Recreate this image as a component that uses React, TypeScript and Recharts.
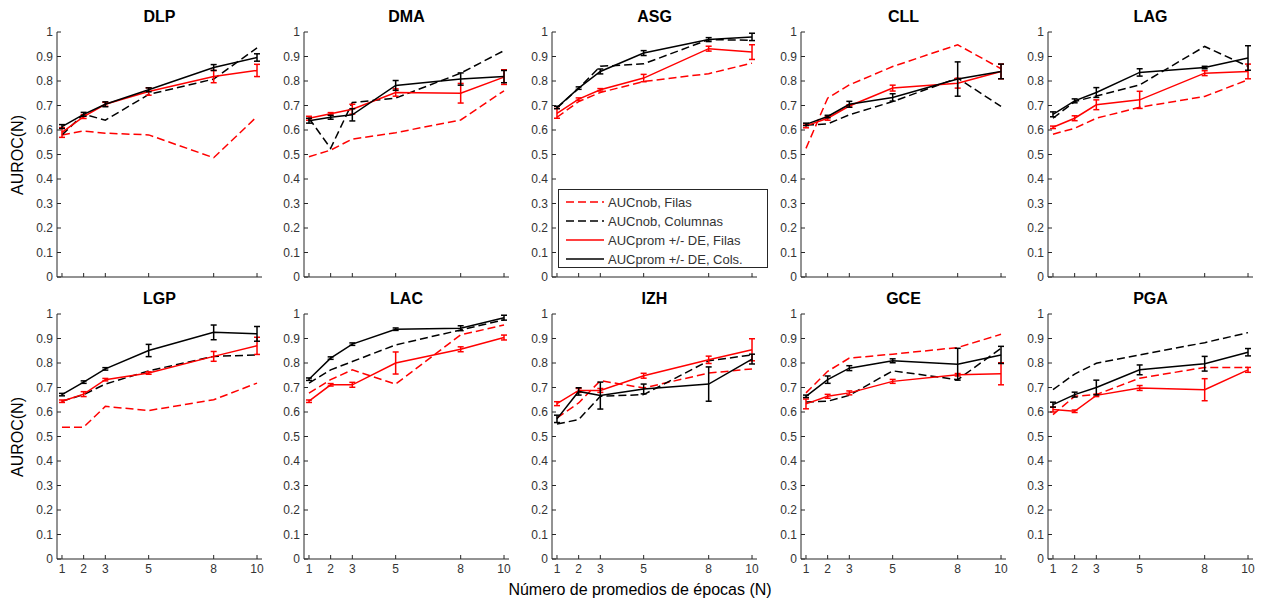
import React from 'react';
import { LineChart, Line, XAxis, YAxis, ErrorBar } from 'recharts';

const panelNames = ['DLP', 'DMA', 'ASG', 'CLL', 'LAG', 'LGP', 'LAC', 'IZH', 'GCE', 'PGA'];
const epochs = [1, 2, 3, 5, 8, 10];
const yTicks = [0, 0.1, 0.2, 0.3, 0.4, 0.5, 0.6, 0.7, 0.8, 0.9, 1];

// AUCnob, Filas (red dashed)
const nobFilas: number[][] = [
  [0.58, 0.596, 0.587, 0.58, 0.487, 0.655],
  [0.491, 0.518, 0.563, 0.589, 0.641, 0.76],
  [0.652, 0.716, 0.753, 0.798, 0.83, 0.873],
  [0.525, 0.73, 0.784, 0.859, 0.948, 0.85],
  [0.583, 0.607, 0.648, 0.693, 0.737, 0.805],
  [0.538, 0.538, 0.623, 0.606, 0.65, 0.718],
  [0.677, 0.732, 0.772, 0.714, 0.915, 0.955],
  [0.576, 0.637, 0.728, 0.698, 0.759, 0.776],
  [0.678, 0.766, 0.82, 0.836, 0.863, 0.917],
  [0.589, 0.664, 0.671, 0.738, 0.782, 0.782],
];

// AUCnob, Columnas (black dashed)
const nobCols: number[][] = [
  [0.58, 0.665, 0.64, 0.745, 0.808, 0.935],
  [0.648, 0.525, 0.712, 0.73, 0.832, 0.924],
  [0.69, 0.77, 0.86, 0.87, 0.969, 0.966],
  [0.62, 0.625, 0.662, 0.716, 0.812, 0.696],
  [0.648, 0.716, 0.739, 0.784, 0.941, 0.86],
  [0.644, 0.671, 0.714, 0.768, 0.827, 0.833],
  [0.718, 0.772, 0.806, 0.874, 0.935, 0.976],
  [0.551, 0.569, 0.664, 0.671, 0.809, 0.833],
  [0.641, 0.644, 0.668, 0.768, 0.732, 0.86],
  [0.691, 0.755, 0.799, 0.833, 0.883, 0.924],
];

// AUCprom +/- DE, Filas (red solid)
const promFilas: number[][] = [
  [0.59, 0.655, 0.705, 0.757, 0.818, 0.843],
  [0.648, 0.666, 0.685, 0.753, 0.75, 0.816],
  [0.668, 0.726, 0.764, 0.812, 0.932, 0.918],
  [0.617, 0.648, 0.698, 0.771, 0.791, 0.839],
  [0.611, 0.648, 0.703, 0.723, 0.832, 0.839],
  [0.644, 0.673, 0.732, 0.759, 0.827, 0.87],
  [0.644, 0.711, 0.711, 0.8, 0.856, 0.904],
  [0.634, 0.688, 0.688, 0.748, 0.813, 0.854],
  [0.633, 0.664, 0.678, 0.725, 0.752, 0.756],
  [0.61, 0.603, 0.668, 0.698, 0.691, 0.772],
];
const promFilasDE: number[][] = [
  [0.02, 0.008, 0.008, 0.015, 0.025, 0.025],
  [0.008, 0.005, 0.02, 0.015, 0.04, 0.03],
  [0.02, 0.005, 0.005, 0.015, 0.01, 0.03],
  [0.008, 0.008, 0.005, 0.012, 0.02, 0.03],
  [0.005, 0.01, 0.02, 0.035, 0.01, 0.03],
  [0.005, 0.01, 0.005, 0.005, 0.02, 0.035],
  [0.005, 0.005, 0.01, 0.045, 0.01, 0.01],
  [0.008, 0.008, 0.008, 0.01, 0.015, 0.045],
  [0.02, 0.008, 0.008, 0.008, 0.005, 0.045],
  [0.01, 0.005, 0.005, 0.01, 0.045, 0.01],
];

// AUCprom +/- DE, Cols. (black solid)
const promCols: number[][] = [
  [0.614, 0.664, 0.705, 0.764, 0.855, 0.896],
  [0.638, 0.652, 0.662, 0.782, 0.808, 0.818],
  [0.692, 0.771, 0.839, 0.914, 0.969, 0.98],
  [0.623, 0.655, 0.705, 0.733, 0.808, 0.839],
  [0.664, 0.719, 0.753, 0.835, 0.855, 0.894],
  [0.671, 0.722, 0.776, 0.851, 0.925, 0.919],
  [0.734, 0.82, 0.877, 0.938, 0.942, 0.985],
  [0.572, 0.684, 0.667, 0.694, 0.714, 0.816],
  [0.664, 0.732, 0.779, 0.809, 0.795, 0.833],
  [0.63, 0.671, 0.7, 0.772, 0.797, 0.844],
];
const promColsDE: number[][] = [
  [0.008, 0.008, 0.01, 0.008, 0.012, 0.015],
  [0.01, 0.008, 0.025, 0.02, 0.025, 0.025],
  [0.005, 0.005, 0.01, 0.01, 0.008, 0.015],
  [0.005, 0.005, 0.012, 0.015, 0.07, 0.03],
  [0.01, 0.008, 0.02, 0.015, 0.005, 0.05],
  [0.005, 0.005, 0.005, 0.025, 0.03, 0.03],
  [0.005, 0.005, 0.005, 0.005, 0.01, 0.01],
  [0.015, 0.015, 0.055, 0.02, 0.07, 0.02],
  [0.005, 0.015, 0.01, 0.008, 0.065, 0.035],
  [0.01, 0.01, 0.03, 0.02, 0.03, 0.015],
];

const legendItems = [
  { label: 'AUCnob, Filas', color: '#ff0000', dash: '8 4' },
  { label: 'AUCnob, Columnas', color: '#000000', dash: '8 4' },
  { label: 'AUCprom +/- DE, Filas', color: '#ff0000', dash: '' },
  { label: 'AUCprom +/- DE, Cols.', color: '#000000', dash: '' },
];

const plotLefts = [57, 304, 552, 801, 1048];
const plotTops = [32, 314];
const PW = 205;
const PH = 245;
const YW = 40;
const MT = 10;
const FONT = '"Liberation Sans", Arial, sans-serif';
const FRAME = '#262626';
const TICKCOL = '#333333';
const TL = 4;

const fmt = (v: number) => (v === 0 ? '0' : v === 1 ? '1' : v.toFixed(1));

const LeftTick = (props: any) => {
  const { x, y, payload } = props;
  return (
    <g>
      <text x={x} y={y} dy="0.35em" textAnchor="end" fontSize={12} fill={TICKCOL} fontFamily={FONT}>
        {fmt(payload.value)}
      </text>
      <line x1={x + 4} x2={x + 4 + TL} y1={y} y2={y} stroke={FRAME} strokeWidth={1} />
    </g>
  );
};

const RightTick = (props: any) => {
  const { x, y } = props;
  return <line x1={x} x2={x - TL} y1={y} y2={y} stroke={FRAME} strokeWidth={1} />;
};

const makeBottomTick = (showLabel: boolean) => (props: any) => {
  const { x, y, payload } = props;
  return (
    <g>
      {showLabel && (
        <text x={x} y={y} dy="0.8em" textAnchor="middle" fontSize={12} fill={TICKCOL} fontFamily={FONT}>
          {payload.value}
        </text>
      )}
      <line x1={x} x2={x} y1={y - 4} y2={y - 4 - TL} stroke={FRAME} strokeWidth={1} />
    </g>
  );
};

const TopTick = (props: any) => {
  const { x, y } = props;
  return <line x1={x} x2={x} y1={y} y2={y + TL} stroke={FRAME} strokeWidth={1} />;
};

function Panel({ idx }: { idx: number }) {
  const col = idx % 5;
  const row = Math.floor(idx / 5);
  const data = epochs.map((n, i) => ({
    n,
    nobF: nobFilas[idx][i],
    nobC: nobCols[idx][i],
    promF: promFilas[idx][i],
    promFDE: promFilasDE[idx][i],
    promC: promCols[idx][i],
    promCDE: promColsDE[idx][i],
  }));
  const left = plotLefts[col] - YW;
  const top = plotTops[row] - MT;
  return (
    <div style={{ position: 'absolute', left, top }}>
      <div
        style={{
          position: 'absolute',
          left: YW,
          width: PW,
          top: MT - 25,
          height: 20,
          lineHeight: '20px',
          textAlign: 'center',
          fontFamily: FONT,
          fontWeight: 'bold',
          fontSize: 16,
          color: '#000',
        }}
      >
        {panelNames[idx]}
      </div>
      <LineChart width={YW + PW + 10} height={MT + PH + 20} data={data} margin={{ top: MT, right: 10, bottom: 0, left: 0 }}>
        <XAxis
          dataKey="n"
          type="number"
          domain={[0.77, 10.23]}
          ticks={epochs}
          allowDataOverflow
          height={20}
          tickSize={0}
          tickMargin={4}
          tickLine={false}
          axisLine={{ stroke: FRAME, strokeWidth: 1 }}
          tick={makeBottomTick(row === 1)}
          interval={0}
        />
        <XAxis
          xAxisId="top"
          orientation="top"
          dataKey="n"
          type="number"
          domain={[0.77, 10.23]}
          ticks={epochs}
          allowDataOverflow
          height={0}
          tickSize={0}
          tickMargin={0}
          tickLine={false}
          axisLine={{ stroke: FRAME, strokeWidth: 1 }}
          tick={TopTick}
          interval={0}
        />
        <YAxis
          type="number"
          domain={[0, 1]}
          ticks={yTicks}
          allowDataOverflow
          width={YW}
          tickSize={0}
          tickMargin={4}
          tickLine={false}
          axisLine={{ stroke: FRAME, strokeWidth: 1 }}
          tick={LeftTick}
          interval={0}
        />
        <YAxis
          yAxisId="right"
          orientation="right"
          type="number"
          domain={[0, 1]}
          ticks={yTicks}
          allowDataOverflow
          width={0}
          tickSize={0}
          tickMargin={0}
          tickLine={false}
          axisLine={{ stroke: FRAME, strokeWidth: 1 }}
          tick={RightTick}
          interval={0}
        />
        <Line dataKey="nobF" stroke="#ff0000" strokeWidth={1.5} strokeDasharray="8 4" dot={false} isAnimationActive={false} />
        <Line dataKey="nobC" stroke="#000000" strokeWidth={1.5} strokeDasharray="8 4" dot={false} isAnimationActive={false} />
        <Line dataKey="promF" stroke="#ff0000" strokeWidth={1.5} dot={false} isAnimationActive={false}>
          <ErrorBar dataKey="promFDE" direction="y" width={3} stroke="#ff0000" strokeWidth={1.5} isAnimationActive={false} />
        </Line>
        <Line dataKey="promC" stroke="#000000" strokeWidth={1.5} dot={false} isAnimationActive={false}>
          <ErrorBar dataKey="promCDE" direction="y" width={3} stroke="#000000" strokeWidth={1.5} isAnimationActive={false} />
        </Line>
      </LineChart>
    </div>
  );
}

function Legend() {
  return (
    <div
      style={{
        position: 'absolute',
        left: 558,
        top: 189,
        width: 210,
        height: 79,
        boxSizing: 'border-box',
        border: `1px solid ${FRAME}`,
        background: '#fff',
        fontFamily: FONT,
        fontSize: 13,
        color: '#333',
      }}
    >
      {legendItems.map((it, i) => (
        <div key={i} style={{ position: 'absolute', left: 6, top: 3 + i * 19, height: 18, display: 'flex', alignItems: 'center' }}>
          <svg width={40} height={18} style={{ display: 'block' }}>
            <line x1={1} x2={39} y1={9} y2={9} stroke={it.color} strokeWidth={1.5} strokeDasharray={it.dash || undefined} />
          </svg>
          <span style={{ marginLeft: 3, whiteSpace: 'nowrap' }}>{it.label}</span>
        </div>
      ))}
    </div>
  );
}

export default function App() {
  return (
    <div style={{ position: 'absolute', left: 0, top: 0, width: 1265, height: 603, background: '#fff', overflow: 'hidden' }}>
      {panelNames.map((_, i) => (
        <Panel key={i} idx={i} />
      ))}
      <Legend />
      {[155, 437].map((cy, i) => (
        <div
          key={i}
          style={{
            position: 'absolute',
            left: 18 - 60,
            top: cy - 10,
            width: 120,
            height: 20,
            lineHeight: '20px',
            textAlign: 'center',
            transform: 'rotate(-90deg)',
            fontFamily: FONT,
            fontSize: 16,
            color: '#000',
          }}
        >
          AUROC(N)
        </div>
      ))}
      <div
        style={{
          position: 'absolute',
          left: 0,
          width: 1280,
          top: 580,
          height: 20,
          lineHeight: '20px',
          textAlign: 'center',
          fontFamily: FONT,
          fontSize: 16,
          color: '#000',
        }}
      >
        Número de promedios de épocas (N)
      </div>
    </div>
  );
}
